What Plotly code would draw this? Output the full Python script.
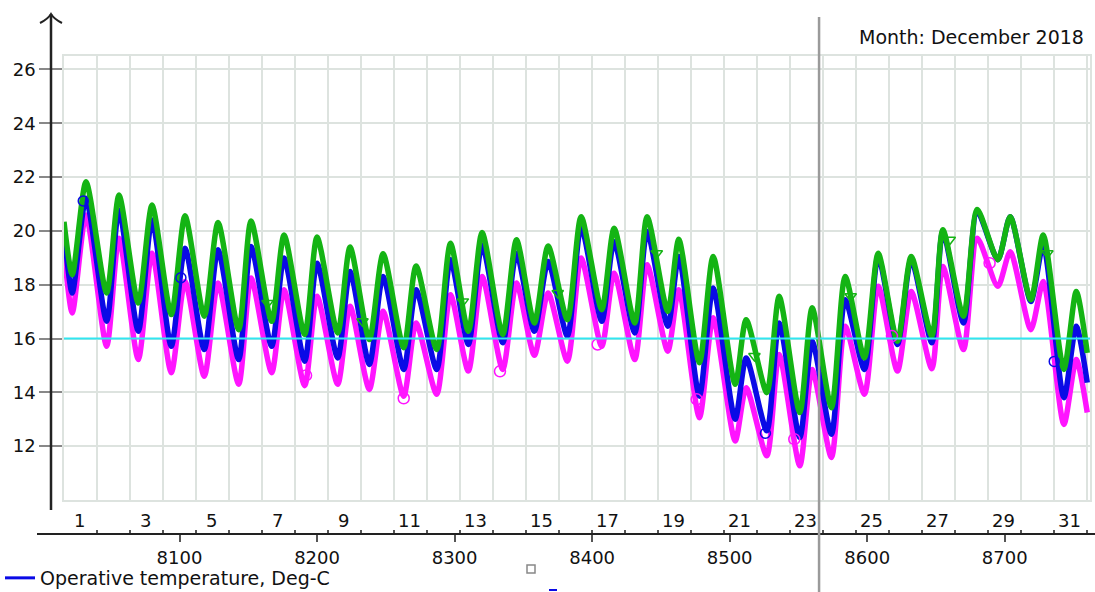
import plotly.graph_objects as go

# ---------------- data ----------------
hours = [8016, 8022, 8032, 8047, 8056, 8070, 8080, 8094, 8104, 8118, 8128, 8143,
         8152, 8167, 8176, 8191, 8200, 8215, 8224, 8238, 8248, 8263, 8272, 8287,
         8297, 8310, 8320, 8335, 8345, 8358, 8368, 8382, 8392, 8407, 8416, 8431,
         8440, 8455, 8463, 8478, 8488, 8504, 8512, 8527, 8536, 8551, 8560, 8574,
         8584, 8598, 8608, 8622, 8632, 8647, 8655, 8670, 8680, 8695, 8704, 8719,
         8728, 8743, 8752, 8760]

green_vals = [20.34, 18.37, 21.83, 17.69, 21.33, 17.32, 20.96, 16.89, 20.56, 16.83,
              20.31, 16.33, 20.37, 16.64, 19.85, 16.15, 19.77, 16.21, 19.40, 15.96,
              19.15, 15.66, 18.70, 15.59, 19.54, 16.27, 19.94, 16.15, 19.67, 16.58,
              19.44, 16.70, 20.53, 17.07, 20.10, 16.58, 20.53, 17.01, 19.69, 15.10,
              19.05, 14.30, 16.70, 13.99, 17.57, 13.25, 17.14, 13.43, 18.31, 15.28,
              19.17, 15.90, 19.05, 16.09, 20.04, 16.83, 20.80, 18.93, 20.53, 17.44,
              19.85, 14.85, 17.75, 15.47]

blue_vals = [20.04, 17.69, 21.21, 16.64, 20.78, 16.27, 20.41, 15.71, 19.36, 15.59,
             19.30, 15.22, 19.42, 15.71, 18.99, 15.16, 18.80, 15.28, 18.49, 15.04,
             18.31, 14.85, 17.81, 14.85, 18.93, 15.78, 19.48, 15.84, 19.17, 16.27,
             18.86, 16.09, 20.16, 16.64, 19.60, 16.21, 19.98, 16.46, 19.05, 13.86,
             17.88, 13.00, 15.28, 12.57, 16.58, 12.32, 15.90, 12.44, 17.44, 14.85,
             19.05, 15.78, 18.93, 15.84, 19.98, 16.58, 20.72, 18.93, 20.53, 17.38,
             19.48, 13.80, 16.46, 14.36]

magenta_vals = [19.30, 16.95, 20.59, 15.71, 19.73, 15.22, 19.17, 14.73, 18.12, 14.60,
                18.06, 14.30, 18.25, 14.73, 17.81, 14.25, 17.57, 14.30, 17.20, 14.11,
                17.01, 13.86, 16.58, 13.93, 17.63, 14.79, 18.31, 14.85, 18.06, 15.38,
                17.69, 15.16, 18.99, 15.71, 18.43, 15.22, 18.74, 15.53, 17.81, 13.06,
                16.77, 12.19, 14.17, 11.64, 15.41, 11.27, 14.85, 11.58, 16.46, 13.93,
                17.94, 14.79, 17.75, 14.88, 18.68, 15.59, 19.73, 17.94, 19.23, 16.33,
                18.12, 12.81, 15.22, 13.25]

# sparse series symbols
blue_mk_h = [8030, 8101, 8526, 8736]
blue_mk_v = [21.11, 18.26, 12.48, 15.15]
green_mk_h = [8164, 8233, 8306, 8375, 8447, 8518, 8588, 8660, 8731]
green_mk_v = [17.32, 16.64, 17.38, 17.69, 19.17, 15.35, 17.57, 19.67, 19.17]
mag_mk_h = [8192, 8263, 8333, 8404, 8476, 8547, 8618, 8689]
mag_mk_v = [14.63, 13.78, 14.78, 15.78, 13.74, 12.26, 16.09, 18.80]

setpoint_h = [8016, 8762]
setpoint_v = [16, 16]

y_ticks = [12, 14, 16, 18, 20, 22, 24, 26]
hour_ticks = [8100, 8200, 8300, 8400, 8500, 8600, 8700]
month_start = 8016
n_days = 31
marker_hour = 8565
x_range = [8016, 8762]
y_range = [10, 26.5]

legend_name = "Operative temperature, Deg-C"
month_text = "Month: December 2018"

# ---------------- styling ----------------
FONT = "DejaVu Sans"
GRID = "#dde3df"
GREEN = "#14b414"
BLUE = "#0a0ae6"
MAGENTA = "#ff14ff"
CYAN = "#30e6f0"
LW = 5.5

W, H = 1095, 592
ML, MR, MT, MB = 64, 5, 56, 58
PW = W - ML - MR
PH = H - MT - MB
plot_bottom_px = 500
ydom0 = (H - MB - plot_bottom_px) / PH


def px_x(px):
    return (px - ML) / PW


def px_y(py):
    return (H - MB - py) / PH


day_starts = [month_start + 24 * d for d in range(n_days + 1)]

fig = go.Figure()

fig.add_trace(go.Scatter(x=setpoint_h, y=setpoint_v, mode="lines", xaxis="x2",
                         line=dict(color=CYAN, width=2), showlegend=False,
                         hoverinfo="skip"))
fig.add_trace(go.Scatter(x=hours, y=magenta_vals, mode="lines",
                         line=dict(color=MAGENTA, width=LW, shape="spline", smoothing=0.7),
                         showlegend=False))
fig.add_trace(go.Scatter(x=hours, y=blue_vals, mode="lines", name=legend_name,
                         line=dict(color=BLUE, width=LW, shape="spline", smoothing=0.7),
                         showlegend=False))
fig.add_trace(go.Scatter(x=hours, y=green_vals, mode="lines",
                         line=dict(color=GREEN, width=LW, shape="spline", smoothing=0.7),
                         showlegend=False))
fig.add_trace(go.Scatter(x=mag_mk_h, y=mag_mk_v, mode="markers", showlegend=False,
                         marker=dict(symbol="circle-open", size=11, color=MAGENTA,
                                     line=dict(width=1.5))))
fig.add_trace(go.Scatter(x=blue_mk_h, y=blue_mk_v, mode="markers", showlegend=False,
                         marker=dict(symbol="circle-open", size=10, color=BLUE,
                                     line=dict(width=1.5))))
fig.add_trace(go.Scatter(x=green_mk_h, y=green_mk_v, mode="markers", showlegend=False,
                         xaxis="x3",
                         marker=dict(symbol="triangle-down-open", size=10, color=GREEN,
                                     line=dict(width=1.5))))
# legend key for the blue series (thin key line as in the reference)
fig.add_trace(go.Scatter(x=[None], y=[None], mode="lines", name=legend_name,
                         line=dict(color=BLUE, width=3), showlegend=True,
                         hoverinfo="skip"))

annotations = []
for d in range(1, n_days + 1, 2):
    annotations.append(dict(x=day_starts[d - 1] + 11, y=0, xref="x", yref="paper",
                            text=str(d), showarrow=False, yanchor="bottom",
                            xanchor="center", yshift=1,
                            font=dict(family=FONT, size=18, color="#111")))
annotations.append(dict(x=px_x(1086), y=px_y(37), xref="paper", yref="paper",
                        text=month_text, showarrow=False, xanchor="right",
                        yanchor="middle", font=dict(family=FONT, size=19, color="#111")))

shapes = [
    # y axis line
    dict(type="line", xref="paper", yref="paper", x0=px_x(51), x1=px_x(51),
         y0=px_y(14), y1=px_y(510), line=dict(color="#222", width=2.5)),
    # arrow head on y axis
    dict(type="path", xref="paper", yref="paper",
         path=f"M {px_x(40)},{px_y(23)} Q {px_x(48)},{px_y(19)} {px_x(51)},{px_y(14)} "
              f"Q {px_x(54)},{px_y(19)} {px_x(62)},{px_y(23)}",
         line=dict(color="#222", width=2)),
    # x axis line
    dict(type="line", xref="paper", yref="paper", x0=px_x(37), x1=px_x(1095),
         y0=0, y1=0, line=dict(color="#222", width=2)),
    # vertical marker line
    dict(type="line", xref="x", yref="paper", x0=marker_hour, x1=marker_hour,
         y0=px_y(592), y1=px_y(17), line=dict(color="#9a9a9a", width=2.5)),
    # small square and dash below axis
    dict(type="rect", xref="paper", yref="paper", x0=px_x(527), x1=px_x(535),
         y0=px_y(573), y1=px_y(565), line=dict(color="#888", width=1.5)),
    dict(type="line", xref="paper", yref="paper", x0=px_x(549), x1=px_x(557),
         y0=px_y(590), y1=px_y(590), line=dict(color=BLUE, width=2)),
]

fig.update_layout(
    width=W, height=H,
    margin=dict(l=ML, r=MR, t=MT, b=MB, pad=0, autoexpand=False),
    paper_bgcolor="white", plot_bgcolor="white",
    font=dict(family=FONT, size=18, color="#111"),
    showlegend=True,
    legend=dict(orientation="h", x=px_x(0), y=px_y(578), xanchor="left",
                yanchor="middle", bgcolor="rgba(0,0,0,0)", tracegroupgap=0,
                font=dict(family=FONT, size=19, color="#111")),
    xaxis=dict(range=x_range, tick0=month_start, dtick=24, showgrid=True,
               gridcolor=GRID, gridwidth=1.5, showticklabels=False, ticks="",
               zeroline=False, showline=True, mirror=True, linecolor=GRID,
               linewidth=1.5, anchor="y"),
    xaxis2=dict(range=x_range, overlaying="x", anchor="free", position=0,
                side="bottom", tickmode="array", tickvals=hour_ticks,
                ticktext=[str(t) for t in hour_ticks], ticks="outside", ticklen=7,
                tickwidth=2, tickcolor="#555", showgrid=False, zeroline=False,
                showline=False, tickfont=dict(family=FONT, size=18, color="#111")),
    xaxis3=dict(range=x_range, overlaying="x", anchor="free", position=0,
                side="bottom", tickmode="array", tickvals=day_starts,
                ticks="inside", ticklen=4, tickwidth=1.5, tickcolor="#555",
                showticklabels=False, showgrid=False, zeroline=False, showline=False),
    yaxis=dict(range=y_range, domain=[ydom0, 1], tickmode="array", tickvals=y_ticks,
               ticks="outside", ticklen=23, tickwidth=2, tickcolor="#888",
               showgrid=True, gridcolor=GRID, gridwidth=1.5, zeroline=False,
               showline=True, mirror=True, linecolor=GRID, linewidth=1.5,
               tickfont=dict(family=FONT, size=18, color="#111")),
    annotations=annotations,
    shapes=shapes,
)

fig.write_html("out.html",
               config={"displayModeBar": False},
               post_script="document.body.style.margin='0px';"
                           "document.body.style.overflow='hidden';")
